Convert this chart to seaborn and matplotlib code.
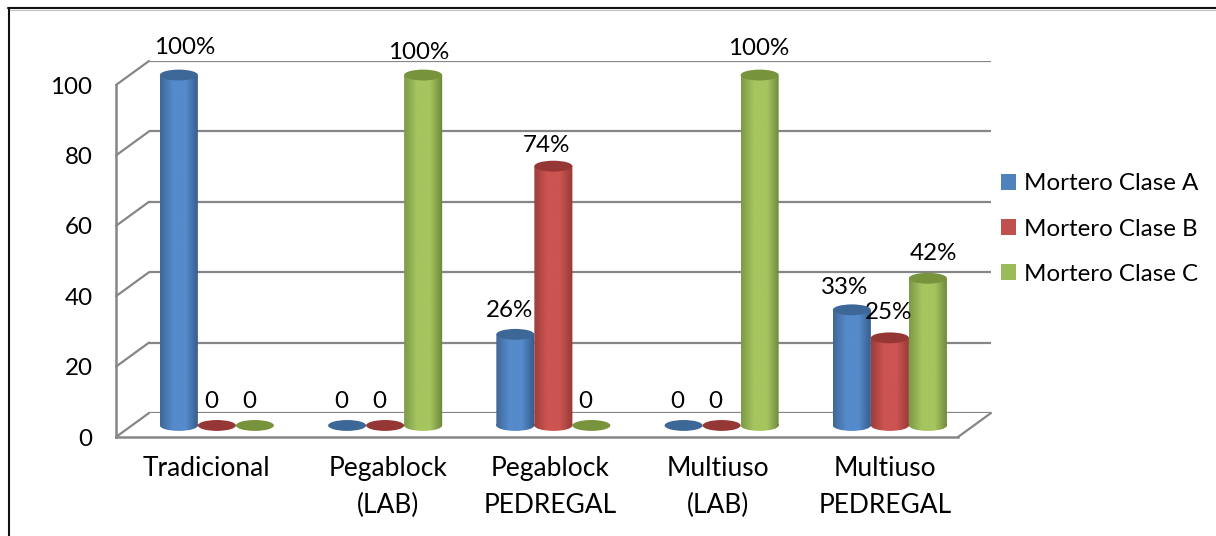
import numpy as np
import pandas as pd
import seaborn as sns
import matplotlib
matplotlib.use('Agg')
import matplotlib.pyplot as plt
from matplotlib.colors import LinearSegmentedColormap
from matplotlib.lines import Line2D
from matplotlib.patches import ConnectionPatch, Ellipse, PathPatch, Rectangle
from matplotlib.path import Path
from matplotlib.transforms import Affine2D

# Chart values
categories = ['Tradicional', 'Pegablock\n(LAB)', 'Pegablock\nPEDREGAL', 'Multiuso\n(LAB)', 'Multiuso\nPEDREGAL']
clase_a = [100, 0, 26, 0, 33]
clase_b = [0, 0, 74, 0, 25]
clase_c = [0, 100, 0, 100, 42]
series_names = ['Mortero Clase A', 'Mortero Clase B', 'Mortero Clase C']
y_ticks = [0, 20, 40, 60, 80, 100]

W, H = 1216, 536
GRID = '#868686'
FONT = 17.4

sns.set_style('white')
plt.rcParams['font.family'] = ['Lato', 'DejaVu Sans']

# colours: legend swatch, left edge, centre, right edge, cap
colors = {
    'Mortero Clase A': ('#4f81bd', '#3f6797', '#558acb', '#355a87', '#3c6796'),
    'Mortero Clase B': ('#c0504d', '#9c3d3a', '#cc5451', '#963a37', '#953735'),
    'Mortero Clase C': ('#9bbb59', '#7c9a47', '#a6c55f', '#6c863a', '#77933c'),
}

df = pd.DataFrame({'categoria': categories, series_names[0]: clase_a,
                   series_names[1]: clase_b, series_names[2]: clase_c})
df = df.melt(id_vars='categoria', var_name='serie', value_name='valor')

fig = plt.figure(figsize=(W / 100, H / 100), dpi=100, facecolor='white')


def px_axes(left, top, right, bottom):
    """Axes placed by its pixel box in the picture."""
    ax = fig.add_axes([left / W, 1 - bottom / H, (right - left) / W, (bottom - top) / H])
    ax.patch.set_alpha(0)
    return ax


# Back wall: only the horizontal grid lines
ax_back = px_axes(149, 61, 991, 413)
ax_back.set_xlim(0, 1)
ax_back.set_ylim(0, 100)
ax_back.set_yticks(y_ticks)
ax_back.set_xticks([])
ax_back.set_yticklabels([])
ax_back.grid(axis='y', color=GRID, lw=1.6)
sns.despine(ax=ax_back, left=True, bottom=True)

# Front plane: axis lines and tick labels
ax_front = px_axes(116, 85, 958, 437)
ax_front.set_xlim(-0.5, 4.5)
ax_front.set_ylim(0, 100)
ax_front.set_yticks(y_ticks)
ax_front.set_xticks(range(len(categories)))
ax_front.set_xticklabels(categories, linespacing=1.58)
ax_front.tick_params(axis='y', length=0, pad=17, labelsize=FONT, labelcolor='black')
ax_front.tick_params(axis='x', length=0, pad=14, labelsize=19, labelcolor='black')
for side in ['top', 'right']:
    ax_front.spines[side].set_visible(False)
for side in ['left', 'bottom']:
    ax_front.spines[side].set_color(GRID)
    ax_front.spines[side].set_linewidth(1.8)

# the labels sit a little right of the front category slots
label_shift = [6, 19, 13, 13, 11]
for lab, dx in zip(ax_front.get_xticklabels(), label_shift):
    lab.set_transform(lab.get_transform() + Affine2D().translate(dx, 0))

# Depth lines joining the front plane and the back wall
for v in y_ticks:
    fig.add_artist(ConnectionPatch((-0.5, v), (0, v), 'data', 'data', axesA=ax_front, axesB=ax_back,
                                   color=GRID, lw=1.6))
fig.add_artist(ConnectionPatch((4.5, 0), (1, 0), 'data', 'data', axesA=ax_front, axesB=ax_back,
                               color=GRID, lw=1.6))

# Cylinders live on a plane between the two walls
ax_bars = px_axes(132.75, 40, 974, 460.5)
palette = {name: colors[name][0] for name in series_names}
sns.barplot(data=df, x='categoria', y='valor', hue='serie', hue_order=series_names, palette=palette,
            width=0.678, gap=0, order=categories, ax=ax_bars, legend=False, saturation=1, zorder=2)
ax_bars.set_xlim(-0.5, 4.5)
ax_bars.set_ylim(-10, 110)
ax_bars.axis('off')

CAP = 3.1  # cap height in value units
label_offset = {('Mortero Clase C', 4): (5, 25), ('Mortero Clase B', 4): (-1, 25),
                ('Mortero Clase A', 0): (6, 28), ('Mortero Clase A', 4): (-7, 22),
                ('Mortero Clase B', 2): (-7, 21), ('Mortero Clase C', 3): (-1, 27),
                ('Mortero Clase C', 1): (-4, 23)}

for name, container in zip(series_names, ax_bars.containers):
    _, left_c, mid_c, right_c, cap_c = colors[name]
    cmap = LinearSegmentedColormap.from_list(name, [left_c, mid_c, mid_c, right_c], N=64)
    shade = np.linspace(0, 1, 64).reshape(1, -1)
    for i, bar in enumerate(container):
        x, w, h = bar.get_x(), bar.get_width(), bar.get_height()
        cx = x + w / 2
        if h > 0:
            bar.set_visible(False)
            body = Path.make_compound_path(
                Rectangle((x, 0), w, h).get_patch_transform().transform_path(Path.unit_rectangle()),
                Ellipse((cx, 0), w, CAP).get_patch_transform().transform_path(Path.unit_circle()))
            clip = PathPatch(body, transform=ax_bars.transData, fc='none', ec='none')
            ax_bars.add_patch(clip)
            im = ax_bars.imshow(shade, cmap=cmap, extent=(x, x + w, -CAP, h), aspect='auto', zorder=3 + i * 0.01)
            im.set_clip_path(clip)
        ax_bars.add_patch(Ellipse((cx, h), w, CAP, fc=cap_c, ec='none', zorder=3.5 + i * 0.01))
        dx, dy = label_offset.get((name, i), (-6, 24))
        text = f'{h:.0f}%' if h > 0 else '0'
        ax_bars.annotate(text, (cx, h), xytext=(dx, dy), textcoords='offset pixels', ha='center',
                         va='center', fontsize=FONT, color='black', zorder=6, annotation_clip=False)

ax_bars.set_xlim(-0.5, 4.5)
ax_bars.set_ylim(-10, 110)

# Legend
handles = [Rectangle((0, 0), 1, 1, fc=colors[name][0], ec='none') for name in series_names]
ax_bars.legend(handles, series_names, loc='center left', bbox_to_anchor=(984 / W, 1 - 229 / H),
               bbox_transform=fig.transFigure, frameon=False, fontsize=FONT, handlelength=0.62,
               handleheight=0.62, handletextpad=0.33, labelspacing=1.0, borderpad=0.2, labelcolor='black')

# Frame of the pasted picture: only top and left show
for xs, ys in [((8, W), (8, 8)), ((9, 9), (8, H))]:
    fig.add_artist(Line2D([a / W for a in xs], [1 - b / H for b in ys], color='#111111', lw=1.5))
fig.add_artist(Line2D([10 / W, 1], [1 - 9.5 / H] * 2, color='#bbbbbb', lw=0.7))

fig.savefig('out.png', dpi=100)
